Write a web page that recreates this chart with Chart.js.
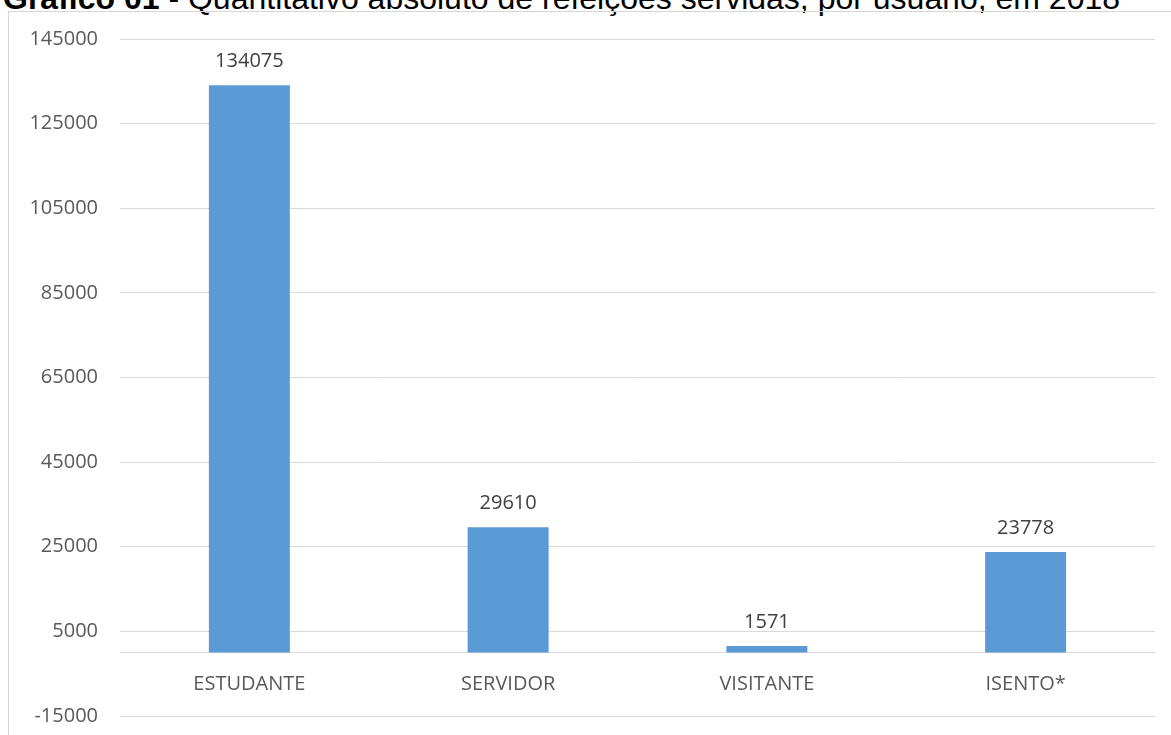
<!DOCTYPE html>
<html lang="pt-BR">
<head>
<meta charset="utf-8">
<title>Refeições servidas por usuário</title>
<script src="https://cdn.jsdelivr.net/npm/chart.js@4.4.1/dist/chart.umd.min.js"></script>
<style>
  html, body { margin: 0; padding: 0; background: #fff; overflow: hidden; }
  #page { position: relative; width: 1171px; height: 735px; overflow: hidden; }
  #titulo {
    position: absolute; left: 3px; top: -18px; white-space: nowrap;
    font-family: "Liberation Sans", Arial, sans-serif; font-size: 32px; line-height: 32px; color: #000;
  }
  #titulo b { font-weight: bold; }
  #moldura {
    position: absolute; left: 8px; top: 11px; width: 1300px; height: 900px;
    border-left: 1px solid #d6d6d6; border-top: 1px solid #d6d6d6;
  }
  #grafico { position: absolute; left: 0; top: 0; }
</style>
</head>
<body>
<div id="page">
  <div id="titulo"><b>Gráfico 01</b> - Quantitativo absoluto de refeições servidas, por usuário, em 2018</div>
  <div id="moldura"></div>
  <canvas id="grafico" width="1171" height="735"></canvas>
</div>
<script>
const usuarios = ["ESTUDANTE", "SERVIDOR", "VISITANTE", "ISENTO*"];
const refeicoes = [134075, 29610, 1571, 23778];
const eixoMin = -15000;
const eixoMax = 145000;
const eixoPasso = 20000;

const fonte = { family: "'Open Sans', 'Noto Sans', sans-serif", size: 20 };

// escreve o valor acima de cada barra
const rotulosValor = {
  id: "rotulosValor",
  afterDatasetsDraw(chart) {
    const ctx = chart.ctx;
    const meta = chart.getDatasetMeta(0);
    ctx.save();
    ctx.font = "20px 'Open Sans', 'Noto Sans', sans-serif";
    ctx.fillStyle = "#404040";
    ctx.textAlign = "center";
    ctx.textBaseline = "middle";
    meta.data.forEach(function(bar, i) {
      ctx.fillText(String(refeicoes[i]), bar.x, bar.y - 24);
    });
    ctx.restore();
  }
};

new Chart(document.getElementById("grafico"), {
  type: "bar",
  data: {
    labels: usuarios,
    datasets: [{
      data: refeicoes,
      backgroundColor: "#5b9bd5",
      borderWidth: 0,
      categoryPercentage: 1,
      barPercentage: 0.313
    }]
  },
  options: {
    responsive: false,
    animation: false,
    layout: { padding: { left: 0, top: 39, right: 16, bottom: 19 } },
    plugins: {
      legend: { display: false },
      tooltip: { enabled: false }
    },
    scales: {
      x: {
        position: { y: 0 },
        grid: { display: false, drawTicks: false },
        border: { display: true, color: "#d9d9d9", width: 1 },
        ticks: { color: "#595959", font: fonte, padding: 20 },
        afterFit: function(scale) { scale.height = 0; }
      },
      y: {
        min: eixoMin,
        max: eixoMax,
        ticks: {
          stepSize: eixoPasso,
          color: "#595959",
          font: fonte,
          padding: 22,
          callback: function(v) { return String(v); }
        },
        grid: { color: "#d9d9d9", drawTicks: false },
        border: { display: false },
        afterFit: function(scale) {
          // a área do gráfico fica só com o padding do layout
          scale.width = 120;
          scale.paddingTop = 0;
          scale.paddingBottom = 0;
        }
      }
    }
  },
  plugins: [rotulosValor]
});
</script>
</body>
</html>
